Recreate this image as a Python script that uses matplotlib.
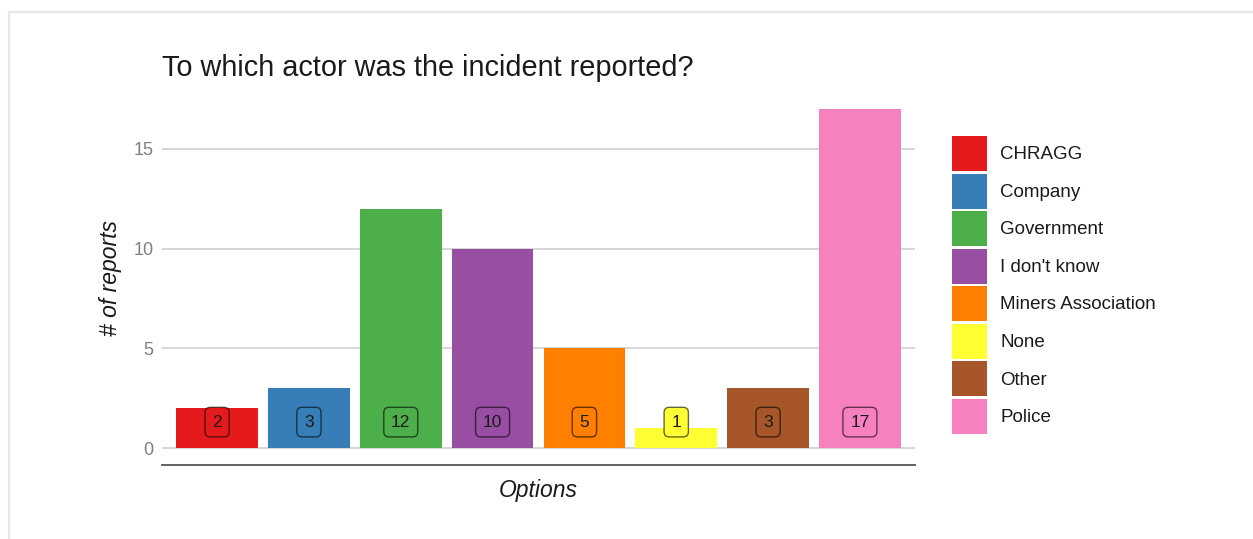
import matplotlib.pyplot as plt
from matplotlib.patches import Patch
from matplotlib.lines import Line2D

# data
options = ["CHRAGG", "Company", "Government", "I don't know",
           "Miners Association", "None", "Other", "Police"]
reports = [2, 3, 12, 10, 5, 1, 3, 17]
colors = ["#E41A1C", "#377EB8", "#4DAF4A", "#984EA3",
          "#FF7F00", "#FFFF33", "#A65628", "#F781BF"]
yticks = [0, 5, 10, 15]

plt.rcParams['font.family'] = ['Liberation Sans', 'DejaVu Sans']

W, H = 1253, 539
fig = plt.figure(figsize=(W / 100, H / 100), dpi=100)

# panel position in pixels (left, top, right, bottom)
L, T, R, B = 162, 92, 915, 465
ax = fig.add_axes([L / W, 1 - B / H, (R - L) / W, (B - T) / H])

pos = list(range(1, len(options) + 1))
ax.bar(pos, reports, width=0.89, color=colors, zorder=2)

for x, v, c in zip(pos, reports, colors):
    ax.text(x, 1.3, str(v), ha='center', va='center', fontsize=12.5,
            color='#1a1a1a', zorder=3,
            bbox=dict(boxstyle='round,pad=0.42,rounding_size=0.3',
                      facecolor=c, edgecolor=(0, 0, 0, 0.6), linewidth=1))

ax.set_xlim(0.4, 8.6)
ax.set_ylim(-0.85, 17.85)
ax.set_xticks([])
ax.set_yticks(yticks)
ax.tick_params(axis='y', length=0, pad=6, labelsize=13, labelcolor='#808080')
ax.yaxis.grid(True, color='#d0d0d0', linewidth=1.2, zorder=0)
ax.set_axisbelow(True)
for s in ['top', 'right', 'left']:
    ax.spines[s].set_visible(False)
ax.spines['bottom'].set_color('#555555')
ax.spines['bottom'].set_linewidth(1.3)

ax.set_xlabel("Options", fontsize=16.5, style='italic', color='#1a1a1a', labelpad=10)
ax.set_ylabel("# of reports", fontsize=16.5, style='italic', color='#1a1a1a', labelpad=8)

fig.text(L / W, 1 - 68 / H, "To which actor was the incident reported?",
         fontsize=20.8, color='#1a1a1a', ha='left', va='center')

handles = [Patch(facecolor=c, edgecolor='none') for c in colors]
fig.legend(handles, options, loc='upper left',
           bbox_to_anchor=(952 / W, 1 - 136 / H), frameon=False,
           fontsize=13.5, handlelength=1.87, handleheight=2.5,
           labelspacing=0.133, handletextpad=0.7, borderpad=0,
           borderaxespad=0, labelcolor='#1a1a1a')

# thin frame around the picture (top and left edges)
fig.add_artist(Line2D([9 / W, 1], [1 - 12 / H, 1 - 12 / H],
                      color='#e6e6e6', linewidth=1.5))
fig.add_artist(Line2D([9 / W, 9 / W], [0, 1 - 12 / H],
                      color='#e6e6e6', linewidth=1.5))

fig.savefig("out.png", dpi=100)
